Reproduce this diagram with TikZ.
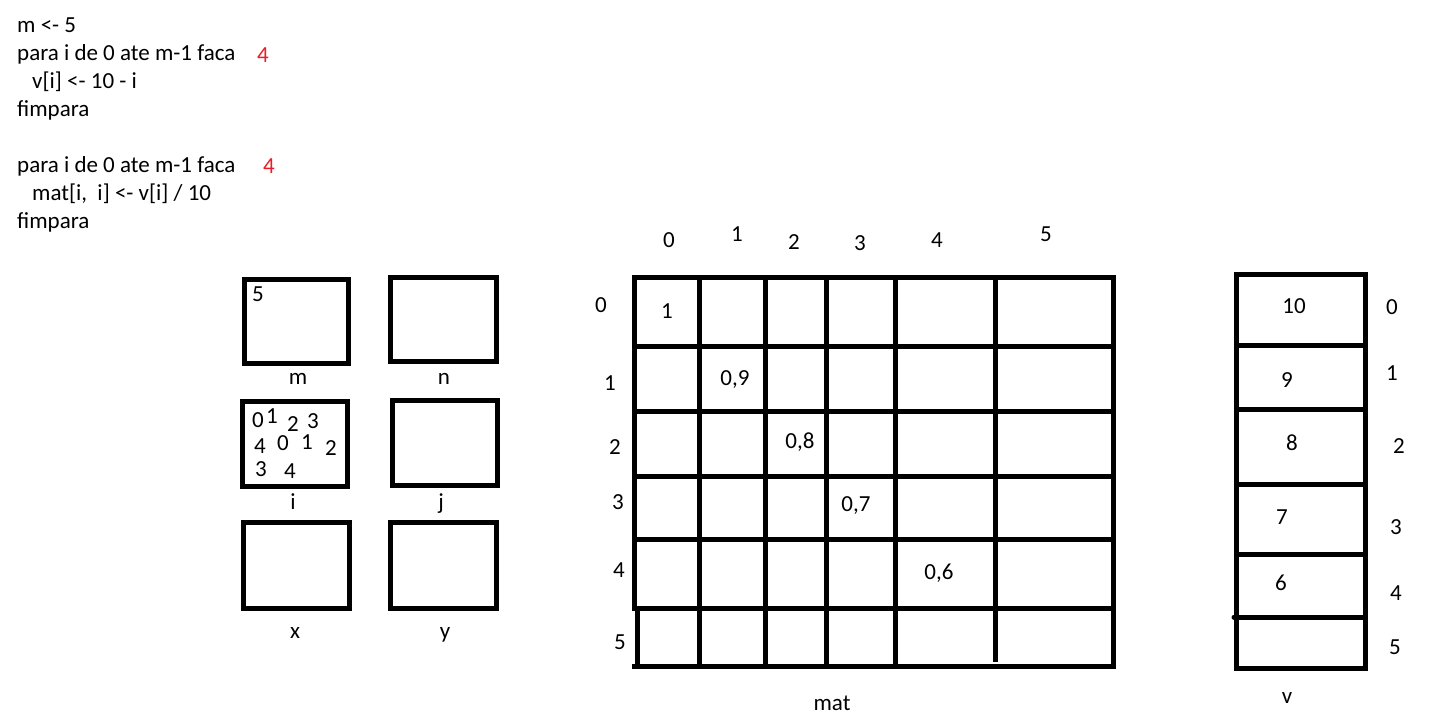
\documentclass[tikz,border=0pt]{standalone}
\usepackage{fontspec}
\setmainfont{Carlito}
\definecolor{redfour}{RGB}{237,28,36}
\begin{document}
\begin{tikzpicture}[x=1pt,y=-1pt,
  every node/.style={inner sep=0pt,font=\fontsize{23}{27}\selectfont},
  code/.style={anchor=base west},
  num/.style={anchor=center},
  lbl/.style={anchor=base},
  redtxt/.style={anchor=center,text=redfour},
  thick line/.style={line width=5pt,line cap=rect},
  box/.style={line width=5pt}]
\useasboundingbox[fill=white] (0,0) rectangle (1438,713);
% code
\node[code] (c1) at (17,32) {m <- 5};
\node[code] (c2) at (17,60) {para i de 0 ate m-1 faca};
\node[code] (c3) at (32,88) {v[i] <- 10 - i};
\node[code] (c4) at (17,116) {fimpara};
\node[code] (c6) at (17,172) {para i de 0 ate m-1 faca};
\node[code] (c7) at (32,200) {mat[i,\hspace{0.45em}i] <- v[i] / 10};
\node[code] (c8) at (17,228) {fimpara};
\node[redtxt] (r1) at (263,55) {4};
\node[redtxt] (r2) at (269,166) {4};
% small variable boxes
\draw[box] (244,279) rectangle (348,363);
\draw[box] (390,277) rectangle (496,361);
\draw[box] (242,401) rectangle (347,486);
\draw[box] (392,400) rectangle (497,485);
\draw[box] (243,522) rectangle (349,608);
\draw[box] (390,522) rectangle (496,608);
\node[lbl] (lm) at (298,384) {m};
\node[lbl] (ln) at (444,384) {n};
\node[lbl] (li) at (293,509) {i};
\node[lbl] (lj) at (441,509) {j};
\node[lbl] (lx) at (295,638) {x};
\node[lbl] (ly) at (445,638) {y};
\node[num] (m5) at (258,294) {5};
\node[num] (i1) at (258,420) {0};
\node[num] (i2) at (272,416) {1};
\node[num] (i3) at (293,424) {2};
\node[num] (i4) at (313,421) {3};
\node[num] (i5) at (260,446) {4};
\node[num] (i6) at (283,443) {0};
\node[num] (i7) at (307,442) {1};
\node[num] (i8) at (331,448) {2};
\node[num] (i9) at (261,469) {3};
\node[num] (i10) at (290,471) {4};
% matrix grid
\foreach \y in {277,346,411,476,539,608,666}
  \draw[thick line] (634,\y) -- (1113,\y);
\draw[thick line] (634,277) -- (634,608);
\draw[thick line] (637,608) -- (637,666);
\foreach \x in {699,765,826,895}
  \draw[thick line] (\x,277) -- (\x,666);
\draw[line width=5pt] (995,277) -- (995,662);
\draw[thick line] (1113,277) -- (1113,666);
\node[num] (h0) at (669,240) {0};
\node[num] (h1) at (737,234) {1};
\node[num] (h2) at (794,242) {2};
\node[num] (h3) at (860,243) {3};
\node[num] (h4) at (937,240) {4};
\node[num] (h5) at (1046,234) {5};
\node[num] (r0) at (601,305) {0};
\node[num] (rr1) at (610,383) {1};
\node[num] (rr2) at (615,447) {2};
\node[num] (rr3) at (618,502) {3};
\node[num] (rr4) at (619,570) {4};
\node[num] (rr5) at (620,642) {5};
\node[num] (d0) at (667,311) {1};
\node[num] (d1) at (735,380) {0,9};
\node[num] (d2) at (800,442) {0,8};
\node[num] (d3) at (856,505) {0,7};
\node[num] (d4) at (939,573) {0,6};
\node[lbl] (lmat) at (832,710) {mat};
% vector v
\draw[box] (1236,274) rectangle (1365,668);
\foreach \y in {345,409,484,554}
  \draw[line width=5pt] (1236,\y) -- (1365,\y);
\draw[line width=5pt,line cap=round] (1234,617) -- (1365,617);
\node[num] (v0) at (1294,306) {10};
\node[num] (v1) at (1287,380) {9};
\node[num] (v2) at (1292,443) {8};
\node[num] (v3) at (1282,517) {7};
\node[num] (v4) at (1281,583) {6};
\node[num] (vi0) at (1392,307) {0};
\node[num] (vi1) at (1392,373) {1};
\node[num] (vi2) at (1399,446) {2};
\node[num] (vi3) at (1396,527) {3};
\node[num] (vi4) at (1396,593) {4};
\node[num] (vi5) at (1395,647) {5};
\node[lbl] (lv) at (1287,703) {v};
\end{tikzpicture}
\end{document}
